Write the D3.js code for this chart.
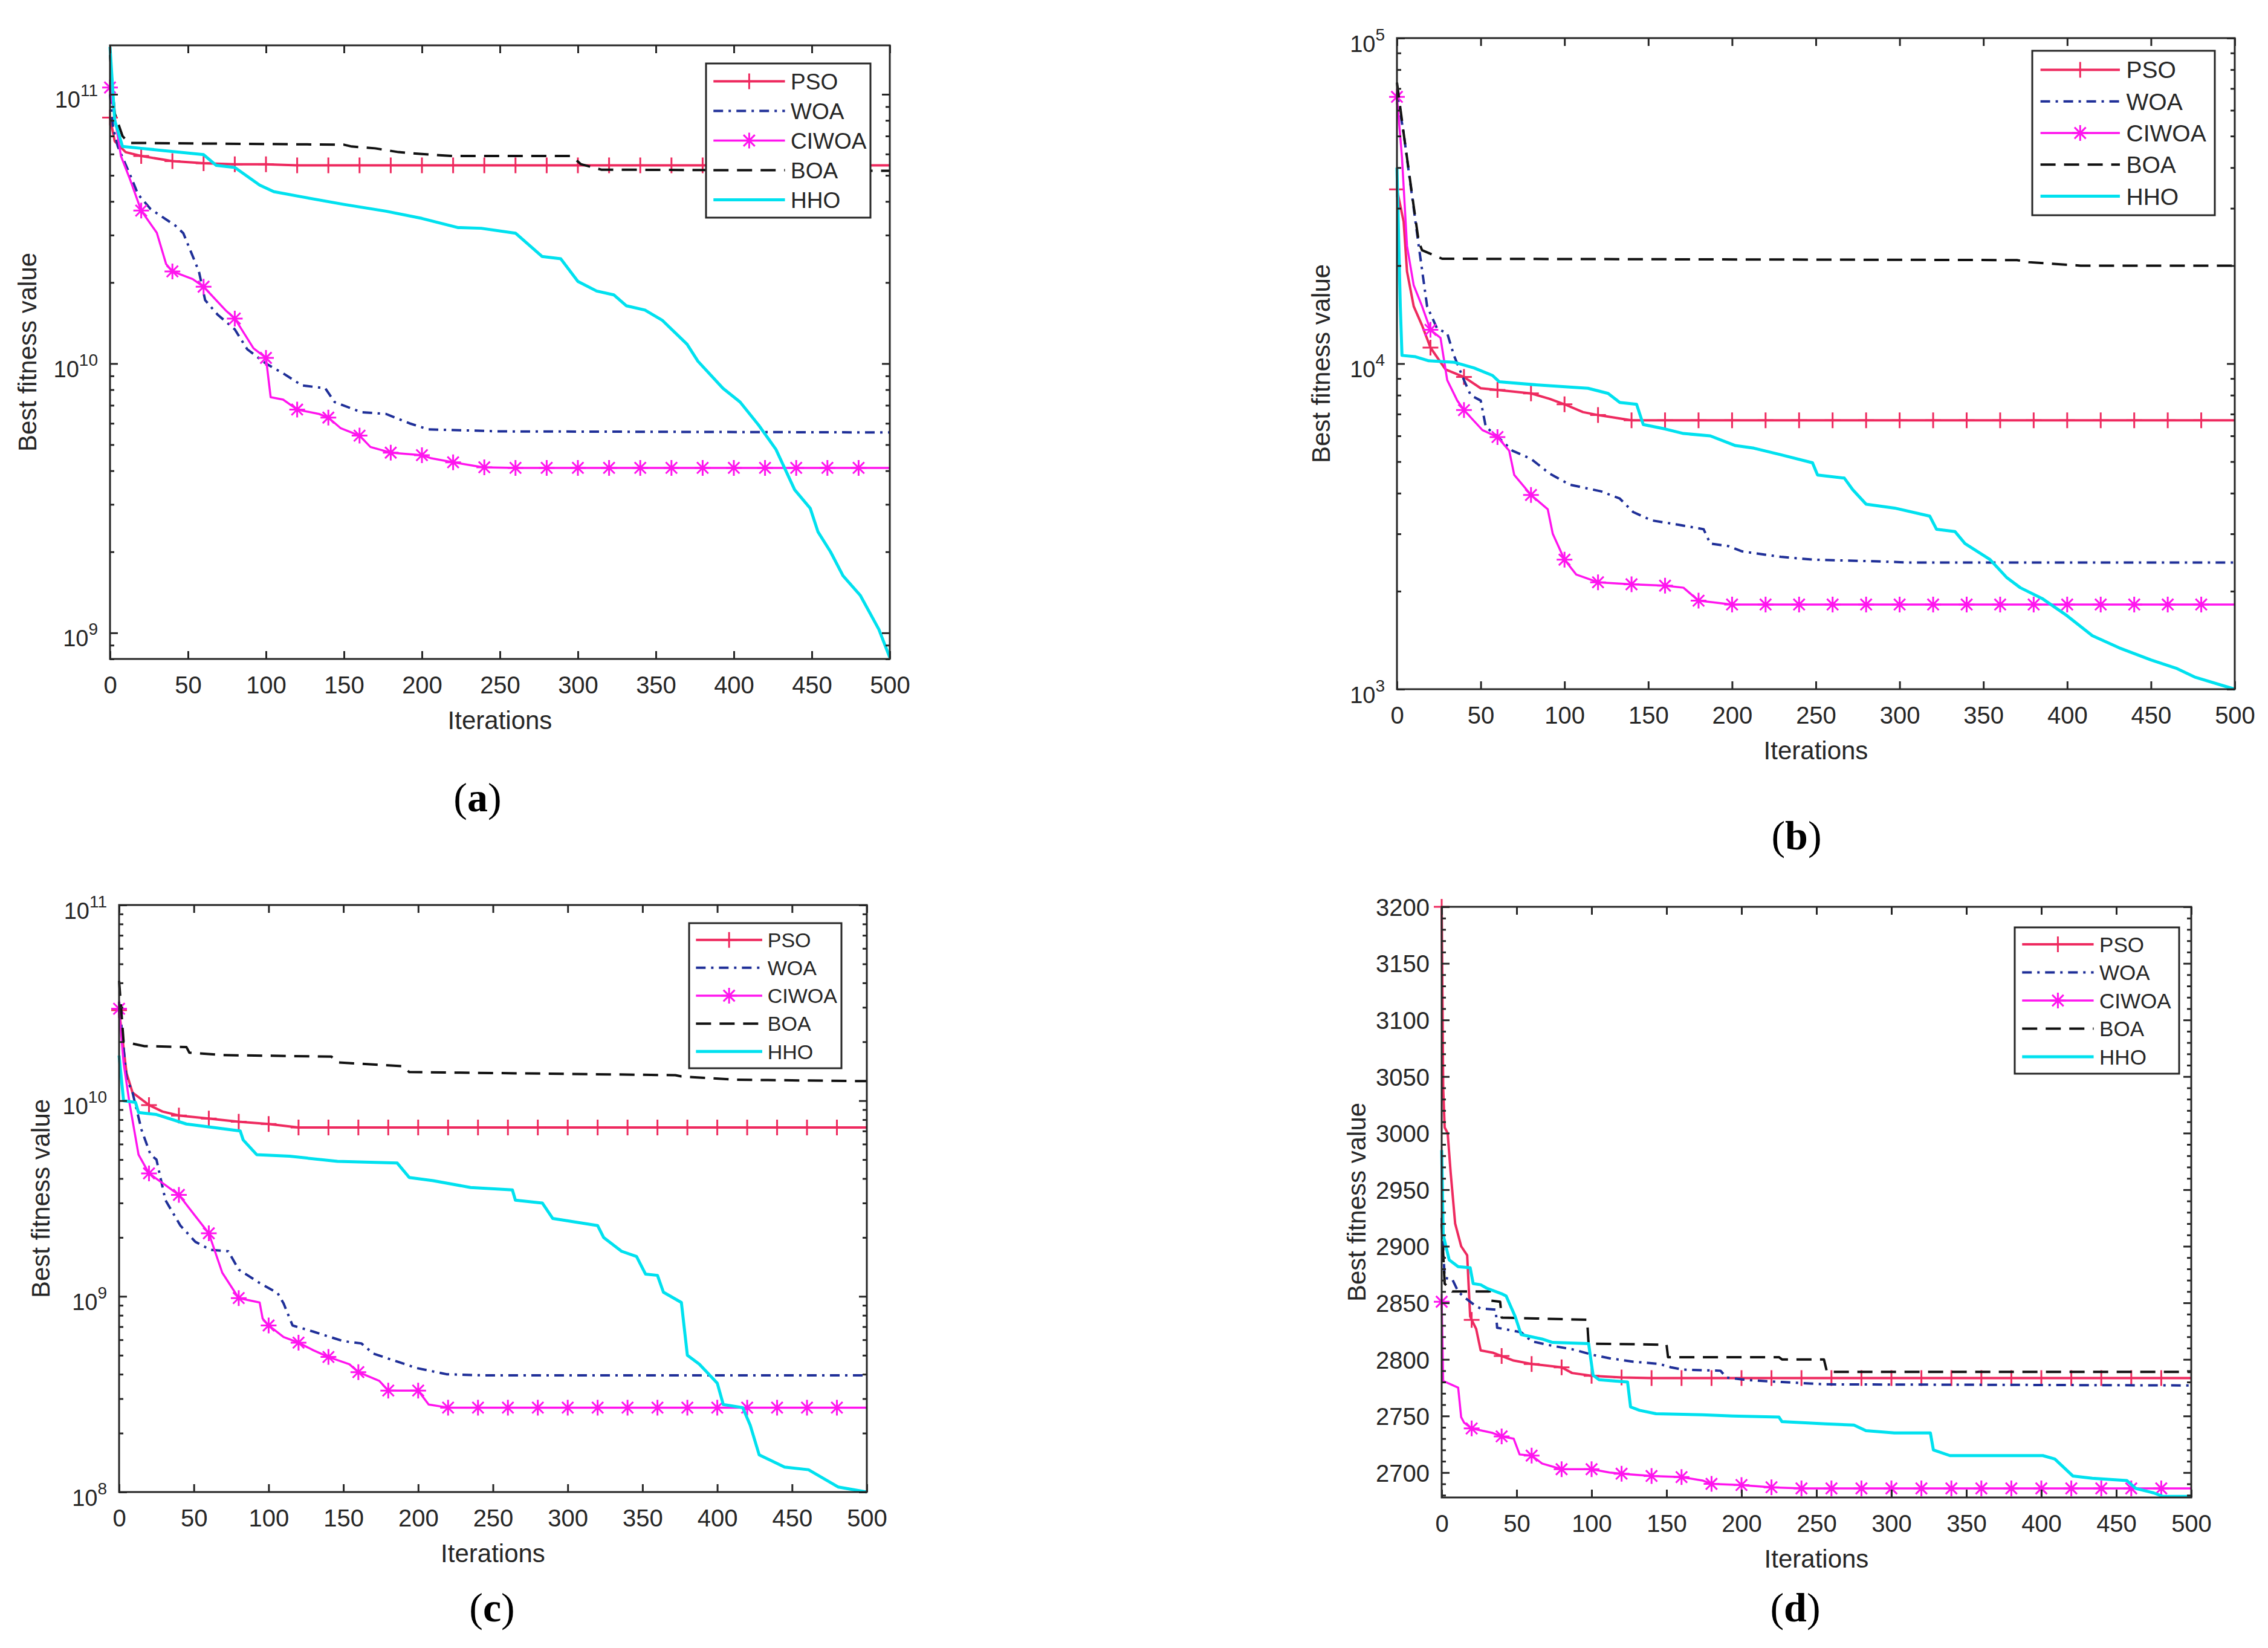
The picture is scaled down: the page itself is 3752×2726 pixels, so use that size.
<!DOCTYPE html>
<html>
<head>
<meta charset="utf-8">
<script src="https://cdn.jsdelivr.net/npm/d3@7"></script>
<style>
  body { margin: 0; background: #fff; }
  svg { display: block; }
</style>
</head>
<body>
<svg id="chart" width="3752" height="2726"></svg>
<script>
// convergence curves of five optimisers on four test functions
// every series is [iteration, best fitness]

const seriesNames = ["PSO", "WOA", "CIWOA", "BOA", "HHO"];
const iterTicks = [0, 50, 100, 150, 200, 250, 300, 350, 400, 450, 500];

// (a)
const yTicksA = [1e9, 1e10, 1e11];
const psoA = [[0,8.2e10],[3,6.7e10],[10,6.1e10],[20,5.9e10],[40,5.65e10],[60,5.55e10],[80,5.5e10],[100,5.5e10],
  [120,5.45e10],[140,5.45e10],[160,5.45e10],[180,5.45e10],[200,5.45e10],[220,5.45e10],[240,5.45e10],[260,5.45e10],
  [280,5.45e10],[300,5.45e10],[320,5.45e10],[340,5.45e10],[360,5.45e10],[380,5.45e10],[400,5.45e10],[420,5.45e10],
  [440,5.45e10],[460,5.45e10],[480,5.45e10],[500,5.45e10]];
const woaA = [[0,1.0e11],[2,7.5e10],[5,6.4e10],[13,5.0e10],[18,4.25e10],[26,3.75e10],[42,3.25e10],[47,3.05e10],
  [57,2.2e10],[61,1.72e10],[69,1.52e10],[80,1.34e10],[88,1.13e10],[100,1.0e10],[111,9.2e9],[123,8.3e9],[138,8.1e9],
  [144,7.2e9],[161,6.6e9],[177,6.5e9],[192,6.0e9],[204,5.7e9],[250,5.6e9],[500,5.55e9]];
const ciwoaA = [[0,1.06e11],[7,5.9e10],[13,4.8e10],[20,3.7e10],[30,3.06e10],[36,2.34e10],[40,2.2e10],[53,2.06e10],
  [60,1.93e10],[74,1.58e10],[80,1.47e10],[92,1.14e10],[100,1.05e10],[103,7.5e9],[111,7.35e9],[120,6.75e9],[134,6.5e9],
  [140,6.3e9],[148,5.75e9],[160,5.4e9],[167,4.9e9],[180,4.67e9],[200,4.57e9],[206,4.45e9],[220,4.3e9],[238,4.13e9],
  [240,4.12e9],[260,4.1e9],[280,4.1e9],[300,4.1e9],[320,4.1e9],[340,4.1e9],[360,4.1e9],[380,4.1e9],[400,4.1e9],
  [420,4.1e9],[440,4.1e9],[460,4.1e9],[480,4.1e9],[500,4.1e9]];
const boaA = [[0,1.4e11],[3,8.5e10],[8,7.0e10],[12,6.6e10],[150,6.5e10],[155,6.4e10],[170,6.3e10],[185,6.1e10],
  [200,6.0e10],[220,5.9e10],[296,5.9e10],[302,5.5e10],[315,5.25e10],[500,5.2e10]];
const hhoA = [[0,1.5e11],[3,8e10],[8,6.4e10],[20,6.3e10],[60,5.97e10],[68,5.45e10],[80,5.35e10],[96,4.6e10],
  [105,4.35e10],[123,4.16e10],[150,3.9e10],[177,3.68e10],[200,3.46e10],[223,3.2e10],[238,3.18e10],[260,3.05e10],
  [277,2.5e10],[289,2.45e10],[300,2.02e10],[312,1.86e10],[323,1.8e10],[331,1.64e10],[343,1.58e10],[354,1.45e10],
  [370,1.18e10],[377,1.02e10],[393,8.1e9],[404,7.2e9],[416,5.9e9],[427,4.8e9],[439,3.4e9],[449,2.9e9],[454,2.37e9],
  [462,2.0e9],[470,1.63e9],[481,1.38e9],[493,1.03e9],[500,8.1e8]];

// (b)
const yTicksB = [1e3, 1e4, 1e5];
const psoB = [[0,3.43e4],[4,2.73e4],[6,1.92e4],[10,1.5e4],[15,1.31e4],[20,1.12e4],[29,9.6e3],[40,9.1e3],[50,8.4e3],
  [60,8.3e3],[80,8.1e3],[91,7.8e3],[100,7.5e3],[111,7.1e3],[120,6.95e3],[140,6.7e3],[160,6.7e3],[180,6.7e3],
  [200,6.7e3],[220,6.7e3],[240,6.7e3],[260,6.7e3],[280,6.7e3],[300,6.7e3],[320,6.7e3],[340,6.7e3],[360,6.7e3],
  [380,6.7e3],[400,6.7e3],[420,6.7e3],[440,6.7e3],[460,6.7e3],[480,6.7e3],[500,6.7e3]];
const woaB = [[0,6.8e4],[4,5.1e4],[7,3.9e4],[10,3.0e4],[13,2.3e4],[18,1.5e4],[24,1.28e4],[30,1.24e4],[34,1.06e4],
  [40,8.9e3],[44,8.0e3],[50,7.7e3],[53,6.4e3],[61,5.9e3],[69,5.4e3],[80,5.1e3],[91,4.6e3],[103,4.25e3],[122,4.05e3],
  [133,3.85e3],[141,3.5e3],[152,3.3e3],[168,3.2e3],[183,3.1e3],[187,2.8e3],[198,2.75e3],[206,2.65e3],[229,2.55e3],
  [248,2.5e3],[286,2.47e3],[305,2.45e3],[500,2.45e3]];
const ciwoaB = [[0,6.6e4],[3,4.3e4],[6,2.3e4],[10,1.74e4],[15,1.5e4],[20,1.27e4],[26,1.2e4],[30,8.9e3],[36,7.7e3],
  [40,7.2e3],[51,6.25e3],[60,5.95e3],[67,5.4e3],[70,4.55e3],[80,3.95e3],[90,3.57e3],[93,3.0e3],[100,2.5e3],
  [107,2.25e3],[120,2.13e3],[140,2.1e3],[160,2.08e3],[171,2.05e3],[180,1.87e3],[200,1.82e3],[220,1.82e3],
  [240,1.82e3],[260,1.82e3],[280,1.82e3],[300,1.82e3],[320,1.82e3],[340,1.82e3],[360,1.82e3],[380,1.82e3],
  [400,1.82e3],[420,1.82e3],[440,1.82e3],[460,1.82e3],[480,1.82e3],[500,1.82e3]];
const boaB = [[0,7.3e4],[4,5.1e4],[10,3.04e4],[13,2.37e4],[15,2.23e4],[27,2.1e4],[370,2.08e4],[377,2.05e4],
  [408,2.0e4],[500,2.0e4]];
const hhoB = [[0,4.0e4],[2,1.5e4],[3,1.06e4],[11,1.05e4],[19,1.02e4],[34,1.01e4],[46,9.7e3],[57,9.2e3],[61,8.8e3],
  [84,8.6e3],[114,8.4e3],[126,8.1e3],[133,7.6e3],[143,7.5e3],[147,6.5e3],[160,6.3e3],[171,6.1e3],[187,6.0e3],
  [202,5.6e3],[213,5.5e3],[229,5.25e3],[248,4.96e3],[251,4.55e3],[267,4.45e3],[272,4.1e3],[280,3.7e3],[297,3.6e3],
  [318,3.4e3],[322,3.1e3],[333,3.05e3],[339,2.8e3],[354,2.5e3],[364,2.2e3],[372,2.05e3],[385,1.9e3],[400,1.68e3],
  [415,1.46e3],[431,1.34e3],[450,1.23e3],[465,1.16e3],[476,1.09e3],[500,1.0e3]];

// (c)
const yTicksC = [1e8, 1e9, 1e10, 1e11];
const psoC = [[0,2.9e10],[5,1.38e10],[9,1.1e10],[20,9.5e9],[29,8.8e9],[40,8.4e9],[60,8.1e9],[80,7.8e9],[100,7.6e9],
  [120,7.3e9],[140,7.3e9],[160,7.3e9],[180,7.3e9],[200,7.3e9],[220,7.3e9],[240,7.3e9],[260,7.3e9],[280,7.3e9],
  [300,7.3e9],[320,7.3e9],[340,7.3e9],[360,7.3e9],[380,7.3e9],[400,7.3e9],[420,7.3e9],[440,7.3e9],[460,7.3e9],
  [480,7.3e9],[500,7.3e9]];
const woaC = [[0,3.2e10],[5,1.3e10],[9,1.1e10],[15,7.1e9],[21,5.3e9],[25,5.0e9],[31,3.1e9],[41,2.3e9],[51,1.9e9],
  [61,1.73e9],[73,1.7e9],[80,1.37e9],[94,1.17e9],[106,1.04e9],[110,9.2e8],[116,7.1e8],[130,6.6e8],[150,5.9e8],
  [162,5.75e8],[170,5.1e8],[199,4.3e8],[219,4.0e8],[243,3.95e8],[500,3.95e8]];
const ciwoaC = [[0,2.95e10],[3,1.56e10],[7,9.7e9],[13,5.3e9],[20,4.25e9],[31,3.7e9],[40,3.3e9],[51,2.57e9],[60,2.1e9],
  [69,1.32e9],[80,9.8e8],[94,9.3e8],[96,7.7e8],[100,7.1e8],[110,6.2e8],[120,5.8e8],[130,5.3e8],[140,4.9e8],[154,4.5e8],
  [160,4.1e8],[174,3.7e8],[180,3.3e8],[200,3.3e8],[207,2.8e8],[220,2.7e8],[240,2.7e8],[260,2.7e8],[280,2.7e8],
  [300,2.7e8],[320,2.7e8],[340,2.7e8],[360,2.7e8],[380,2.7e8],[400,2.7e8],[420,2.7e8],[440,2.7e8],[460,2.7e8],
  [480,2.7e8],[500,2.7e8]];
const boaC = [[0,4.1e10],[3,2.0e10],[17,1.9e10],[45,1.88e10],[47,1.76e10],[69,1.71e10],[142,1.68e10],[146,1.57e10],
  [190,1.5e10],[194,1.4e10],[303,1.37e10],[372,1.35e10],[376,1.33e10],[412,1.28e10],[493,1.26e10],[500,1.26e10]];
const hhoC = [[0,1.7e10],[3,1.0e10],[11,9.8e9],[13,8.7e9],[25,8.5e9],[45,7.6e9],[81,7.0e9],[83,6.3e9],[92,5.3e9],
  [114,5.2e9],[146,4.9e9],[186,4.8e9],[194,4.05e9],[210,3.9e9],[235,3.6e9],[263,3.5e9],[265,3.1e9],[283,3.0e9],
  [290,2.5e9],[320,2.3e9],[324,2.0e9],[336,1.7e9],[346,1.6e9],[352,1.3e9],[360,1.28e9],[364,1.05e9],[376,9.3e8],
  [380,5.0e8],[388,4.5e8],[400,3.6e8],[404,2.8e8],[417,2.7e8],[422,2.2e8],[428,1.55e8],[445,1.34e8],[461,1.3e8],
  [473,1.15e8],[481,1.06e8],[500,1.0e8]];

// (d)
const yTicksD = [2700, 2750, 2800, 2850, 2900, 2950, 3000, 3050, 3100, 3150, 3200];
const psoD = [[0,3200],[1,3040],[2,3005],[4,3000],[6,2965],[9,2920],[11,2910],[13,2900],[17,2892],[19,2838],
  [20,2835],[23,2827],[26,2808],[34,2806],[40,2803],[48,2799],[60,2796],[80,2793],[87,2788],[100,2785.5],[120,2784],
  [140,2783.5],[160,2783.5],[180,2783.5],[200,2783.5],[220,2783.5],[240,2783.5],[260,2783.5],[280,2783.5],
  [300,2783.5],[320,2783.5],[340,2783.5],[360,2783.5],[380,2783.5],[400,2783.5],[420,2783.5],[440,2783.5],
  [460,2783.5],[480,2783.5],[500,2783.5]];
const woaD = [[0,2925],[2,2872],[7,2871],[11,2860],[15,2855],[23,2847],[26,2845],[36,2844],[37,2828],[53,2824],
  [60,2816],[74,2812],[87,2809],[101,2804],[112,2801],[128,2798],[145,2796],[153,2793],[161,2791],[186,2790],
  [190,2784],[202,2782],[227,2780],[256,2778],[500,2777]];
const ciwoaD = [[0,2851],[1,2781],[11,2775],[13,2749],[15,2744],[20,2739],[34,2735],[40,2732],[48,2730],[52,2716],
  [60,2715],[67,2708],[80,2703],[100,2703],[112,2700],[120,2699],[140,2697],[160,2696],[174,2693],[180,2690],
  [200,2689],[220,2687],[240,2686],[260,2686],[280,2686],[300,2686],[320,2686],[340,2686],[360,2686],[380,2686],
  [400,2686],[420,2686],[440,2686],[460,2686],[480,2686],[500,2686]];
const boaD = [[0,2920],[2,2867],[7,2860],[32,2860],[33,2852],[39,2851],[40,2837],[97,2835],[98,2814],[150,2813],
  [151,2802],[225,2802],[227,2800],[255,2800],[257,2789],[500,2789]];
const hhoD = [[0,2985],[1,2910],[5,2888],[11,2882],[19,2881],[21,2867],[26,2866],[30,2863],[40,2858],[43,2856],
  [49,2838],[53,2822],[60,2820],[67,2818],[74,2815],[98,2814],[101,2786],[105,2782],[124,2780],[126,2758],[132,2755],
  [143,2752],[174,2751],[194,2750],[225,2749],[227,2745],[256,2743],[275,2742],[283,2737],[302,2735],[326,2735],
  [328,2720],[339,2715],[401,2715],[409,2712],[421,2697],[434,2695],[457,2693],[463,2686],[475,2682],[481,2679],
  [500,2679]];

// line styles, same order as seriesNames
const styles = [
  {color: "#ee2a5f", width: 4,   dash: null,        marker: "plus"},
  {color: "#1f2f98", width: 4,   dash: "16,9,4,9",  marker: null},
  {color: "#ff14ee", width: 3.5, dash: null,        marker: "star"},
  {color: "#111111", width: 4,   dash: "25,14",     marker: null},
  {color: "#00e1ef", width: 5,   dash: null,        marker: null}
];

const panels = [
  {tag: "a", log: true,  domain: [8.0e8, 1.52e11], ticks: yTicksA, series: [psoA, woaA, ciwoaA, boaA, hhoA],
   box: {l: 182, r: 1472, t: 75, b: 1090}, ylab: 137,
   leg: {x: 1168, y: 105, w: 272, h: 255, fs: 37}, cap: [790, 1318]},
  {tag: "b", log: true,  domain: [1e3, 1e5], ticks: yTicksB, series: [psoB, woaB, ciwoaB, boaB, hhoB],
   box: {l: 2311, r: 3697, t: 63, b: 1140}, ylab: 126,
   leg: {x: 3362, y: 84, w: 302, h: 272, fs: 39}, cap: [2972, 1381]},
  {tag: "c", log: true,  domain: [1e8, 1e11], ticks: yTicksC, series: [psoC, woaC, ciwoaC, boaC, hhoC],
   box: {l: 197, r: 1434, t: 1497, b: 2468}, ylab: 130,
   leg: {x: 1140, y: 1527, w: 252, h: 240, fs: 34}, cap: [814, 2658]},
  {tag: "d", log: false, domain: [2678, 3200], ticks: yTicksD, series: [psoD, woaD, ciwoaD, boaD, hhoD],
   box: {l: 2385, r: 3625, t: 1500, b: 2477}, ylab: 141,
   leg: {x: 3333, y: 1534, w: 272, h: 242, fs: 35}, cap: [2970, 2658]}
];

const ink = "#262626";
const sans = "'Liberation Sans', Arial, Helvetica, sans-serif";
const svg = d3.select("#chart");
svg.append("rect").attr("width", 3752).attr("height", 2726).attr("fill", "#fff");

function marker(g, type, cx, cy, color, r) {
  let p = `M${cx - r},${cy}H${cx + r}M${cx},${cy - r}V${cy + r}`;
  if (type === "star") {
    const k = r * 0.72;
    p += `M${cx - k},${cy - k}L${cx + k},${cy + k}M${cx - k},${cy + k}L${cx + k},${cy - k}`;
  }
  g.append("path").attr("d", p).attr("stroke", color).attr("stroke-width", 3).attr("fill", "none");
}

function styleAxis(sel) {
  sel.select(".domain").remove();
  sel.selectAll(".tick line").attr("stroke", ink).attr("stroke-width", 3);
  sel.selectAll(".tick text").attr("fill", ink).attr("font-family", sans);
}

function drawPanel(p) {
  const g = svg.append("g");
  const bx = p.box;
  const x = d3.scaleLinear().domain([0, 500]).range([bx.l, bx.r]);
  const y = (p.log ? d3.scaleLog() : d3.scaleLinear()).domain(p.domain).range([bx.b, bx.t]);

  const line = d3.line().x(d => x(d[0])).y(d => y(d[1]));
  p.series.forEach((s, i) => {
    const st = styles[i];
    g.append("path").datum(s).attr("d", line)
      .attr("fill", "none").attr("stroke", st.color).attr("stroke-width", st.width)
      .attr("stroke-dasharray", st.dash).attr("stroke-linejoin", "round");
    if (st.marker) {
      s.filter(d => d[0] % 20 === 0 && d[0] < 500)
        .forEach(d => marker(g, st.marker, x(d[0]), y(d[1]), st.color, 13));
    }
  });

  // minor ticks
  let minor;
  if (p.log) {
    minor = y.ticks().filter(v => !p.ticks.includes(v));
  } else {
    minor = d3.range(p.domain[0], p.domain[1], 10).map(v => Math.ceil(v / 10) * 10).filter(v => v % 50 !== 0);
  }
  g.append("g").attr("transform", `translate(${bx.l},0)`)
    .call(d3.axisLeft(y).tickValues(minor).tickSize(-7).tickFormat("")).call(styleAxis);
  g.append("g").attr("transform", `translate(${bx.r},0)`)
    .call(d3.axisRight(y).tickValues(minor).tickSize(-7).tickFormat("")).call(styleAxis);

  // major y ticks
  const yl = g.append("g").attr("transform", `translate(${bx.l},0)`)
    .call(d3.axisLeft(y).tickValues(p.ticks).tickSize(-13).tickPadding(20).tickFormat(d3.format("d")))
    .call(styleAxis);
  if (p.log) {
    yl.selectAll(".tick text").each(function (d) {
      const t = d3.select(this).text("").attr("dy", null).attr("y", 22).attr("font-size", 38);
      t.append("tspan").text("10");
      t.append("tspan").attr("dy", -19).attr("font-size", 28).text(Math.round(Math.log10(d)));
    });
  } else {
    yl.selectAll(".tick text").attr("font-size", 40).attr("dy", "0.36em");
  }
  g.append("g").attr("transform", `translate(${bx.r},0)`)
    .call(d3.axisRight(y).tickValues(p.ticks).tickSize(-13).tickFormat("")).call(styleAxis);

  // x ticks
  const xb = g.append("g").attr("transform", `translate(0,${bx.b})`)
    .call(d3.axisBottom(x).tickValues(iterTicks).tickSize(-13).tickPadding(29)).call(styleAxis);
  xb.selectAll(".tick text").attr("font-size", 40);
  g.append("g").attr("transform", `translate(0,${bx.t})`)
    .call(d3.axisTop(x).tickValues(iterTicks).tickSize(-13).tickFormat("")).call(styleAxis);

  g.append("rect").attr("x", bx.l).attr("y", bx.t).attr("width", bx.r - bx.l).attr("height", bx.b - bx.t)
    .attr("fill", "none").attr("stroke", ink).attr("stroke-width", 3);

  // axis titles
  g.append("text").attr("x", (bx.l + bx.r) / 2).attr("y", bx.b + 116)
    .attr("text-anchor", "middle").attr("font-family", sans).attr("font-size", 42).attr("fill", ink)
    .text("Iterations");
  g.append("text")
    .attr("transform", `translate(${bx.l - p.ylab},${(bx.t + bx.b) / 2}) rotate(-90)`)
    .attr("text-anchor", "middle").attr("dy", "0.36em")
    .attr("font-family", sans).attr("font-size", 42).attr("fill", ink)
    .text("Best fitness value");

  // legend
  const lg = p.leg;
  g.append("rect").attr("x", lg.x).attr("y", lg.y).attr("width", lg.w).attr("height", lg.h)
    .attr("fill", "#fff").attr("stroke", ink).attr("stroke-width", 3);
  const step = lg.h / 5.2;
  seriesNames.forEach((name, i) => {
    const st = styles[i];
    const ry = lg.y + step * 0.6 + step * i;
    const x0 = lg.x + lg.w * 0.045, x1 = lg.x + lg.w * 0.48;
    g.append("line").attr("x1", x0).attr("x2", x1).attr("y1", ry).attr("y2", ry)
      .attr("stroke", st.color).attr("stroke-width", st.width).attr("stroke-dasharray", st.dash);
    if (st.marker) marker(g, st.marker, (x0 + x1) / 2, ry, st.color, 13);
    g.append("text").attr("x", lg.x + lg.w * 0.515).attr("y", ry).attr("dy", "0.36em")
      .attr("font-family", sans).attr("font-size", lg.fs).attr("fill", ink).text(name);
  });

  // sub-figure caption
  const cap = g.append("text").attr("x", p.cap[0]).attr("y", p.cap[1]).attr("dy", "0.35em")
    .attr("text-anchor", "middle").attr("font-family", "'Liberation Serif', 'DejaVu Serif', serif")
    .attr("font-size", 68).attr("fill", "#000");
  cap.append("tspan").text("(");
  cap.append("tspan").attr("font-weight", "bold").text(p.tag);
  cap.append("tspan").text(")");
}

panels.forEach(drawPanel);
</script>
</body>
</html>
